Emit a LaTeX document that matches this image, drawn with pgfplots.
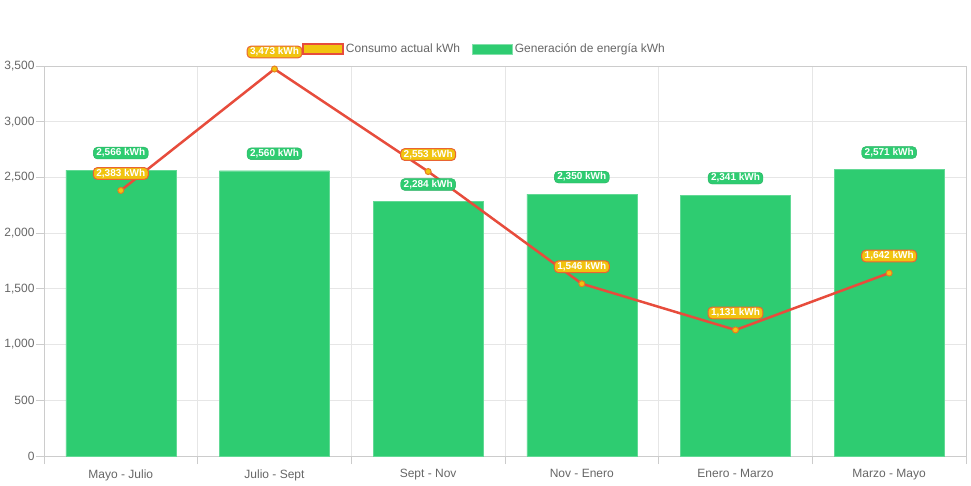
\documentclass[border=0pt]{standalone}
\usepackage{fontspec}
\setmainfont{Liberation Sans}
\usepackage{pgfplots}
\pgfplotsset{compat=1.18}
\definecolor{verde}{HTML}{2ECC71}
\definecolor{verdeosc}{HTML}{27AE60}
\definecolor{amarillo}{HTML}{F1C40F}
\definecolor{rojo}{HTML}{E74C3C}
\definecolor{naranja}{HTML}{E67E22}
\definecolor{texto}{HTML}{666666}
\definecolor{rejilla}{HTML}{E6E6E6}

\begin{document}
\begin{tikzpicture}
\begin{axis}[
  scale only axis, width=922pt, height=390pt,
  at={(0,0)}, anchor=south west,
  xmin=-0.5, xmax=5.5, ymin=0, ymax=3500,
  xtick={0,...,5},
  xticklabels={Mayo - Julio, Julio - Sept, Sept - Nov, Nov - Enero, Enero - Marzo, Marzo - Mayo},
  minor xtick={-0.5,0.5,...,5.5},
  ytick={0,500,...,3500},
  minor ytick={0,500,...,3500},
  xminorgrids, ymajorgrids,
  grid style={draw=rejilla, line width=0.8pt},
  minor grid style={draw=rejilla, line width=0.8pt},
  axis line style={draw=black!20, line width=0.8pt},
  major tick length=0pt, minor tick length=8pt,
  tick align=outside, tick pos=left,
  every tick/.style={draw=black!20, line width=0.8pt},
  minor tick style={draw=black!20, line width=0.8pt},
  tick label style={font=\fontsize{12}{14}\selectfont, text=texto},
  /pgf/number format/assume math mode=true,
  /pgf/number format/1000 sep={,},
  xticklabel style={yshift=-10pt},
  yticklabel style={xshift=-6pt},
  reverse legend,
  legend columns=2,
  legend style={at={(0.478,1.0436)}, anchor=center, draw=none, fill=none,
    font=\fontsize{12}{14}\selectfont, text=texto,
    /tikz/every even column/.append style={column sep=10pt}},
]
\addplot[ybar, bar width=0.716, fill=verde, draw=verde!75!white,
  nodes near coords={\pgfmathprintnumber{\pgfplotspointmeta}~kWh},
  every node near coord/.append style={fill=verde, draw=verdeosc, rounded corners=4pt,
    text=white, font=\bfseries\fontsize{10}{12}\selectfont,
    inner xsep=3pt, inner ysep=1.5pt, anchor=center, yshift=17pt},
  legend image code/.code={\draw[fill=verde, draw=verde!60!white, line width=0.8pt] (0pt,-5pt) rectangle (40pt,5pt);}]
  coordinates {(0,2566) (1,2560) (2,2284) (3,2350) (4,2341) (5,2571)};
\addlegendentry{Generación de energía kWh}
\addplot[rojo, line width=2.5pt, mark=*, mark size=3pt,
  mark options={fill=amarillo, draw=naranja, line width=1pt},
  nodes near coords={\pgfmathprintnumber{\pgfplotspointmeta}~kWh},
  every node near coord/.append style={fill=amarillo, draw=rojo!80!amarillo, rounded corners=4pt,
    line width=1pt, text=white, font=\bfseries\fontsize{10}{12}\selectfont,
    inner xsep=3pt, inner ysep=1.5pt, anchor=center, yshift=17pt},
  legend image code/.code={\draw[fill=amarillo, draw=rojo, line width=1.5pt] (0pt,-5pt) rectangle (40pt,5pt);}]
  coordinates {(0,2383) (1,3473) (2,2553) (3,1546) (4,1131) (5,1642)};
\addlegendentry{Consumo actual kWh}
\end{axis}
\pgfresetboundingbox
\useasboundingbox (-44pt,-29pt) rectangle (927pt,456pt);
\end{tikzpicture}
\end{document}
